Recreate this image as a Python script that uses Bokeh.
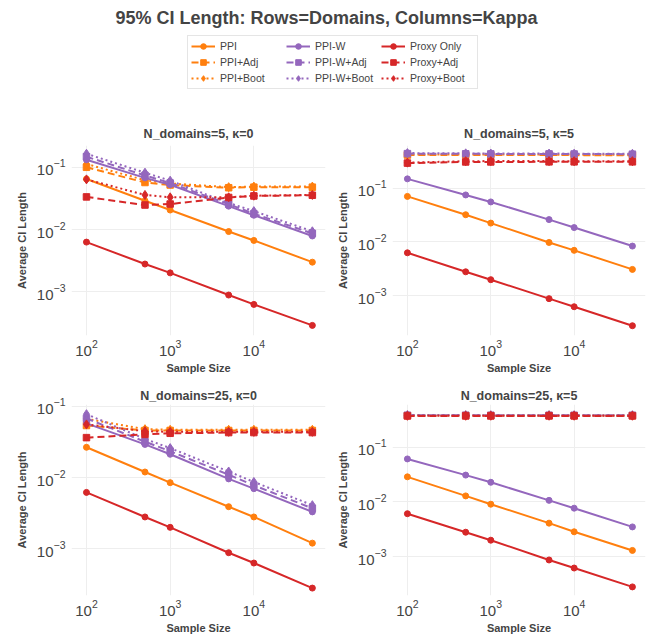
from bokeh.plotting import figure
from bokeh.models import (ColumnDataSource, Range1d, FixedTicker, LogTickFormatter,
                          Legend, LegendItem)
from bokeh.layouts import column, row
from bokeh.core.properties import value
from bokeh.embed import file_html
from bokeh.resources import INLINE

FONT = "Liberation Sans"
TXT = "#444444"

sizes = [100, 500, 1000, 5000, 10000, 50000]

series_names = ["PPI", "PPI+Adj", "PPI+Boot", "PPI-W", "PPI-W+Adj", "PPI-W+Boot",
                "Proxy Only", "Proxy+Adj", "Proxy+Boot"]

# N_domains=5, kappa=0
d5k0_ppi = [0.065, 0.029, 0.0206, 0.0093, 0.0067, 0.0030]
d5k0_ppi_adj = [0.100, 0.057, 0.052, 0.047, 0.048, 0.048]
d5k0_ppi_boot = [0.113, 0.062, 0.055, 0.048, 0.049, 0.049]
d5k0_ppiw = [0.132, 0.0676, 0.0524, 0.0238, 0.0170, 0.0079]
d5k0_ppiw_adj = [0.148, 0.074, 0.056, 0.0256, 0.0180, 0.0087]
d5k0_ppiw_boot = [0.165, 0.082, 0.061, 0.0268, 0.0198, 0.0094]
d5k0_proxy = [0.0063, 0.0028, 0.00202, 0.00089, 0.00063, 0.00029]
d5k0_proxy_adj = [0.0335, 0.0248, 0.0257, 0.0328, 0.0347, 0.0356]
d5k0_proxy_boot = [0.064, 0.036, 0.033, 0.033, 0.035, 0.036]

# N_domains=5, kappa=5
d5k5_ppi = [0.070, 0.032, 0.0224, 0.0098, 0.0070, 0.0031]
d5k5_ppi_adj = [0.410, 0.412, 0.410, 0.410, 0.408, 0.406]
d5k5_ppi_boot = [0.418, 0.420, 0.418, 0.417, 0.416, 0.414]
d5k5_ppiw = [0.148, 0.0745, 0.0553, 0.026, 0.0185, 0.0084]
d5k5_ppiw_adj = [0.435, 0.432, 0.430, 0.430, 0.428, 0.425]
d5k5_ppiw_boot = [0.445, 0.440, 0.437, 0.436, 0.434, 0.432]
d5k5_proxy = [0.0063, 0.0028, 0.0020, 0.00089, 0.00063, 0.00028]
d5k5_proxy_adj = [0.290, 0.305, 0.305, 0.306, 0.306, 0.306]
d5k5_proxy_boot = [0.296, 0.315, 0.316, 0.316, 0.315, 0.315]

# N_domains=25, kappa=0
d25k0_ppi = [0.0267, 0.0120, 0.0085, 0.0039, 0.0028, 0.0012]
d25k0_ppi_adj = [0.054, 0.046, 0.046, 0.046, 0.046, 0.046]
d25k0_ppi_boot = [0.067, 0.048, 0.047, 0.047, 0.047, 0.047]
d25k0_ppiw = [0.058, 0.0293, 0.0213, 0.0096, 0.0070, 0.0033]
d25k0_ppiw_adj = [0.068, 0.032, 0.0235, 0.0110, 0.0078, 0.0037]
d25k0_ppiw_boot = [0.078, 0.035, 0.0260, 0.0122, 0.0087, 0.0041]
d25k0_proxy = [0.0062, 0.0028, 0.0020, 0.00088, 0.00063, 0.00028]
d25k0_proxy_adj = [0.0365, 0.0405, 0.042, 0.043, 0.043, 0.043]
d25k0_proxy_boot = [0.056, 0.045, 0.044, 0.044, 0.044, 0.044]

# N_domains=25, kappa=5
d25k5_ppi = [0.0288, 0.0129, 0.0091, 0.0041, 0.00285, 0.0013]
d25k5_ppi_adj = [0.380, 0.381, 0.380, 0.380, 0.380, 0.380]
d25k5_ppi_boot = [0.383, 0.383, 0.382, 0.383, 0.382, 0.382]
d25k5_ppiw = [0.0612, 0.031, 0.0229, 0.0107, 0.0077, 0.0035]
d25k5_ppiw_adj = [0.385, 0.385, 0.384, 0.385, 0.384, 0.384]
d25k5_ppiw_boot = [0.388, 0.387, 0.386, 0.387, 0.386, 0.386]
d25k5_proxy = [0.0061, 0.0028, 0.0020, 0.00087, 0.00062, 0.00028]
d25k5_proxy_adj = [0.374, 0.375, 0.375, 0.375, 0.375, 0.375]
d25k5_proxy_boot = [0.376, 0.377, 0.377, 0.377, 0.377, 0.377]

panels = [
    ("N_domains=5, κ=0", [d5k0_ppi, d5k0_ppi_adj, d5k0_ppi_boot, d5k0_ppiw, d5k0_ppiw_adj,
                          d5k0_ppiw_boot, d5k0_proxy, d5k0_proxy_adj, d5k0_proxy_boot]),
    ("N_domains=5, κ=5", [d5k5_ppi, d5k5_ppi_adj, d5k5_ppi_boot, d5k5_ppiw, d5k5_ppiw_adj,
                          d5k5_ppiw_boot, d5k5_proxy, d5k5_proxy_adj, d5k5_proxy_boot]),
    ("N_domains=25, κ=0", [d25k0_ppi, d25k0_ppi_adj, d25k0_ppi_boot, d25k0_ppiw, d25k0_ppiw_adj,
                           d25k0_ppiw_boot, d25k0_proxy, d25k0_proxy_adj, d25k0_proxy_boot]),
    ("N_domains=25, κ=5", [d25k5_ppi, d25k5_ppi_adj, d25k5_ppi_boot, d25k5_ppiw, d25k5_ppiw_adj,
                           d25k5_ppiw_boot, d25k5_proxy, d25k5_proxy_adj, d25k5_proxy_boot]),
]

ORANGE, PURPLE, RED = "#ff7f0e", "#9467bd", "#d62728"
styles = []
for c in (ORANGE, PURPLE, RED):
    styles.append((c, "solid", "circle", 6))
    styles.append((c, "7 4", "square", 6.5))
    styles.append((c, "2 3", "diamond", 9))

y_ranges = [(10 ** -3.70, 10 ** -0.65), (10 ** -3.734, 10 ** -0.211),
            (10 ** -3.657, 10 ** -0.972), (10 ** -3.71, 10 ** -0.218)]
x_range = (10 ** 1.821, 10 ** 4.856)


def make_panel(idx, title, vals):
    is_left = idx % 2 == 0
    is_top = idx < 2
    w = 330 if is_left else 321
    h = 265 if is_top else 251
    p = figure(width=w, height=h, x_axis_type="log", y_axis_type="log",
               x_range=Range1d(*x_range), y_range=Range1d(*y_ranges[idx]),
               output_backend="svg", toolbar_location=None,
               min_border_left=71 if is_left else 62,
               min_border_right=5 if is_left else 6,
               min_border_top=23 if is_top else 19,
               min_border_bottom=50 if is_top else 40)
    p.title.text = title
    p.title.align = "center"
    p.title.text_font = FONT
    p.title.text_font_size = "12.5px"
    p.title.text_font_style = "bold"
    p.title.text_color = TXT
    p.title.standoff = 9 if is_top else 3
    p.outline_line_color = None
    p.background_fill_color = "white"
    p.border_fill_color = "white"
    for ax in (p.xaxis[0], p.yaxis[0]):
        ax.axis_line_color = None
        ax.major_tick_line_color = None
        ax.minor_tick_line_color = None
        ax.major_tick_out = 0
        ax.minor_tick_out = 0
        ax.major_label_text_font = FONT
        ax.major_label_text_font_size = "15px"
        ax.major_label_text_color = TXT
        ax.axis_label_text_font = FONT
        ax.axis_label_text_font_size = "11px"
        ax.axis_label_text_font_style = "bold"
        ax.axis_label_text_color = TXT
        ax.formatter = LogTickFormatter()
    p.xaxis[0].ticker = FixedTicker(ticks=[100, 1000, 10000])
    p.yaxis[0].ticker = FixedTicker(ticks=[0.001, 0.01, 0.1])
    p.xaxis[0].axis_label = "Sample Size"
    p.yaxis[0].axis_label = "Average CI Length"
    p.xaxis[0].major_label_standoff = 4
    p.yaxis[0].major_label_standoff = 6
    p.xaxis[0].axis_label_standoff = 3
    p.yaxis[0].axis_label_standoff = 6
    p.grid.grid_line_color = "#eeeeee"
    p.grid.grid_line_width = 1
    p.xgrid.minor_grid_line_color = None
    p.ygrid.minor_grid_line_color = None
    for (color, dash, marker, msize), ys in zip(styles, vals):
        src = ColumnDataSource(dict(x=sizes, y=ys))
        p.line("x", "y", source=src, line_color=color, line_width=2, line_dash=dash)
        p.scatter("x", "y", source=src, marker=marker, size=msize,
                  fill_color=color, line_color=color)
    return p


figs = [make_panel(i, t, v) for i, (t, v) in enumerate(panels)]

# header with title and legend
hdr = figure(width=651, height=120, x_range=Range1d(0, 651), y_range=Range1d(120, 0),
             output_backend="svg", toolbar_location=None, min_border=0)
hdr.axis.visible = False
hdr.grid.visible = False
hdr.outline_line_color = None
hdr.text(x=[326], y=[17], text=["95% CI Length: Rows=Domains, Columns=Kappa"],
         text_font=value(FONT), text_font_size="18px", text_font_style="bold",
         text_color=TXT, text_align="center", text_baseline="middle")
items = []
for name, (color, dash, marker, msize) in zip(series_names, styles):
    src = ColumnDataSource(dict(x=[-500, -400], y=[-500, -500]))
    r1 = hdr.line("x", "y", source=src, line_color=color, line_width=2, line_dash=dash)
    r2 = hdr.scatter("x", "y", source=src, marker=marker, size=msize,
                     fill_color=color, line_color=color)
    items.append(LegendItem(label=name, renderers=[r1, r2]))
leg = Legend(items=items, location=(187, 31), orientation="vertical", nrows=3,
             label_text_font=FONT, label_text_font_size="10.5px", label_text_color=TXT,
             glyph_width=24, glyph_height=14, label_height=14, label_width=64,
             spacing=2, padding=3, label_standoff=5, margin=0,
             border_line_color="#cccccc", border_line_width=1,
             background_fill_alpha=1)
hdr.add_layout(leg, "center")

layout = column(hdr, row(figs[0], figs[1]), row(figs[2], figs[3]))

open("out.html", "w").write(file_html(layout, INLINE))
